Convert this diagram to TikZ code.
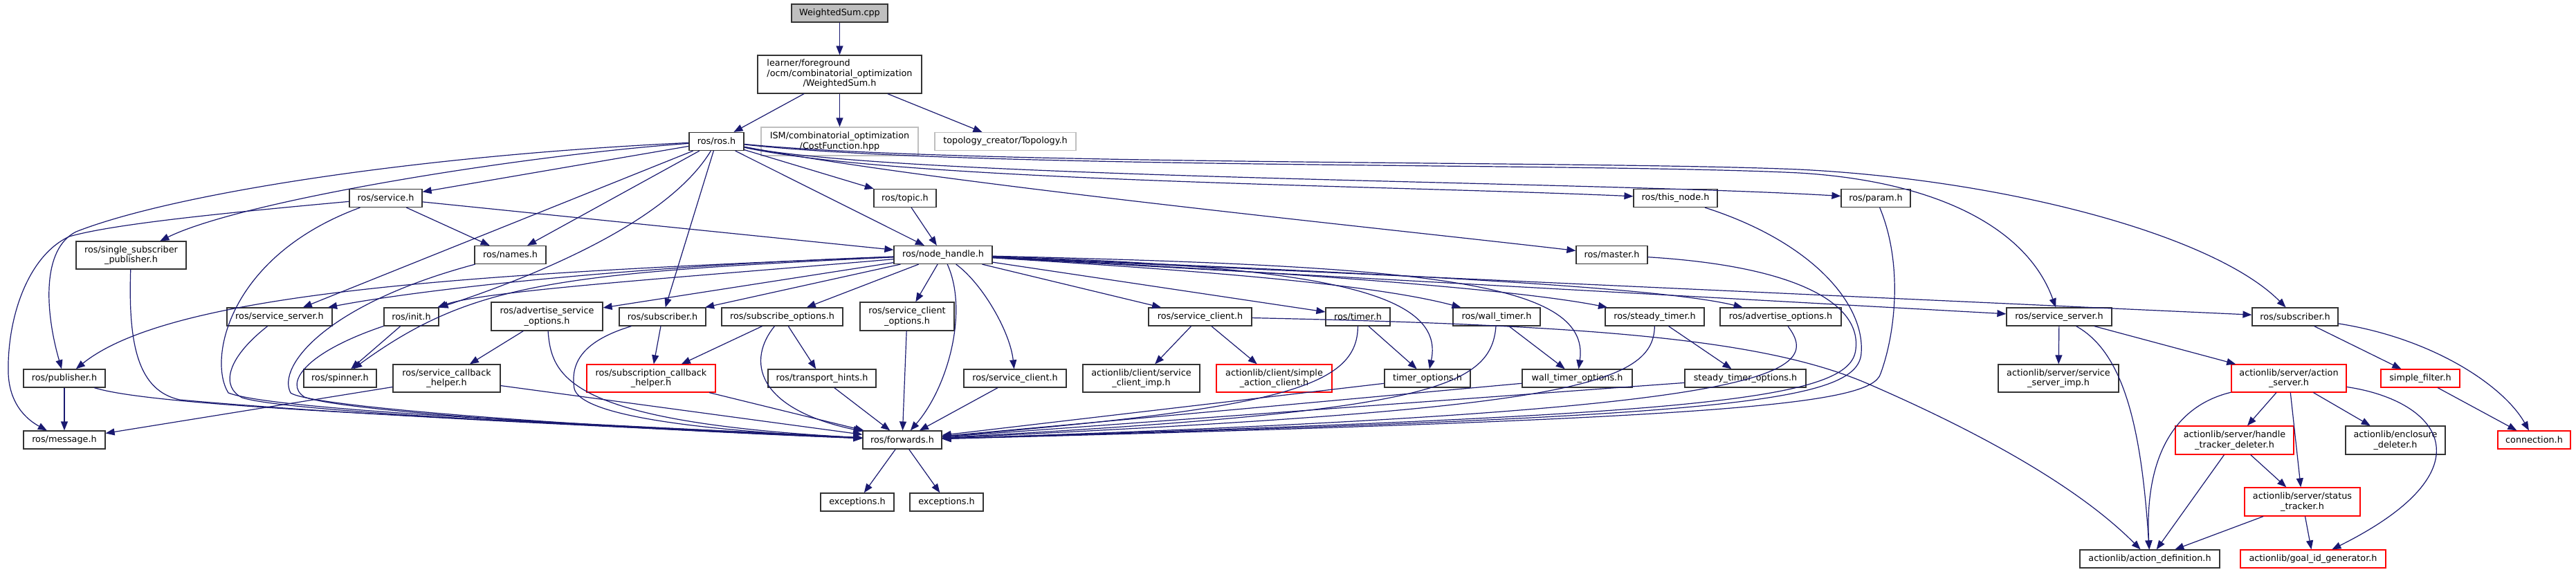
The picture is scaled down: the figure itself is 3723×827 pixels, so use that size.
\documentclass[tikz,border=0pt]{standalone}
\usepackage{fontspec}
\setmainfont{DejaVu Sans}
\usetikzlibrary{arrows.meta}
\definecolor{midnightblue}{HTML}{191970}
\definecolor{doxred}{HTML}{FF0000}
\definecolor{doxgray}{HTML}{BFBFBF}

\begin{document}
\begin{tikzpicture}[x=1pt, y=-1pt,
    hdr/.style={rectangle, draw=black!80, fill=white, line width=1.2pt, inner sep=1pt,
                minimum height=26, align=center, font=\fontsize{12.8}{14.5}\selectfont},
    hdrred/.style={hdr, draw=doxred},
    hdrgray/.style={hdr, draw=doxgray},
    dep/.style={draw=midnightblue, line width=1.2pt, -{Triangle[length=13pt,width=10pt]}}]
  \useasboundingbox (0,0) rectangle (3723,827);

  % top
  \node[hdr, fill=doxgray, minimum width=139]   (cpp)      at (1213.5,19)    {WeightedSum.cpp};
  \node[hdr, minimum width=237, minimum height=55] (wsh)   at (1213.5,107.5) {\begin{tabular}{@{}l@{}}learner/foreground\\/ocm/combinatorial\_optimization\\\multicolumn{1}{@{}c@{}}{/WeightedSum.h}\end{tabular}};
  \node[hdr, minimum width=79]                  (ros)      at (1035.5,204.5) {ros/ros.h};
  \node[hdrgray, minimum width=227, minimum height=41] (cost) at (1213.5,204.5) {ISM/combinatorial\_optimization\\/CostFunction.hpp};
  \node[hdrgray, minimum width=204]             (topo)     at (1453,204.5)   {topology\_creator/Topology.h};

  \node[hdr, minimum width=105]                 (service)  at (557.5,286.5)  {ros/service.h};
  \node[hdr, minimum width=90]                  (topic)    at (1308,286.5)   {ros/topic.h};
  \node[hdr, minimum width=121]                 (thisnode) at (2421.5,286.5) {ros/this\_node.h};
  \node[hdr, minimum width=100]                 (param)    at (2711,286.5)   {ros/param.h};

  \node[hdr, minimum width=159, minimum height=40] (ssp)    at (189.5,369)    {ros/single\_subscriber\\\_publisher.h};
  \node[hdr, minimum width=103]                 (names)    at (737.5,368.5)  {ros/names.h};
  \node[hdr, minimum width=142]                 (nh)       at (1363,368.5)   {ros/node\_handle.h};
  \node[hdr, minimum width=103]                 (master)   at (2329.5,368.5) {ros/master.h};

  % middle row
  \node[hdr, minimum width=152]                 (srvsrvA)  at (404,458)      {ros/service\_server.h};
  \node[hdr, minimum width=79]                  (init)     at (594.5,458)    {ros/init.h};
  \node[hdr, minimum width=161, minimum height=41] (aso)    at (790.5,457.5)  {ros/advertise\_service\\\_options.h};
  \node[hdr, minimum width=125]                 (subA)     at (957.5,458)    {ros/subscriber.h};
  \node[hdr, minimum width=175]                 (subopt)   at (1130.5,458)   {ros/subscribe\_options.h};
  \node[hdr, minimum width=136, minimum height=41] (sco)    at (1311,457.5)   {ros/service\_client\\\_options.h};
  \node[hdr, minimum width=149]                 (scA)      at (1734.5,458)   {ros/service\_client.h};
  \node[hdr, minimum width=93]                  (timer)    at (1962.5,458)   {ros/timer.h};
  \node[hdr, minimum width=126]                 (walltimer) at (2163,458)    {ros/wall\_timer.h};
  \node[hdr, minimum width=143]                 (steadytimer) at (2391.5,458) {ros/steady\_timer.h};
  \node[hdr, minimum width=175]                 (advopt)   at (2573.5,458)   {ros/advertise\_options.h};
  \node[hdr, minimum width=152]                 (srvsrvB)  at (2976,458)     {ros/service\_server.h};
  \node[hdr, minimum width=124]                 (subB)     at (3317,458)     {ros/subscriber.h};

  \node[hdr, minimum width=118]                 (pub)      at (93,547)       {ros/publisher.h};
  \node[hdr, minimum width=105]                 (spinner)  at (491.5,547)    {ros/spinner.h};
  \node[hdr, minimum width=155, minimum height=40] (scbh)   at (645.5,547)    {ros/service\_callback\\\_helper.h};
  \node[hdrred, minimum width=186, minimum height=40] (subcbh) at (941,547)   {ros/subscription\_callback\\\_helper.h};
  \node[hdr, minimum width=156]                 (th)       at (1188,547)     {ros/transport\_hints.h};
  \node[hdr, minimum width=148]                 (scB)      at (1467,547)     {ros/service\_client.h};
  \node[hdr, minimum width=169, minimum height=40] (scimp)  at (1649.5,547)   {actionlib/client/service\\\_client\_imp.h};
  \node[hdrred, minimum width=167, minimum height=40] (sac) at (1841.5,547)   {actionlib/client/simple\\\_action\_client.h};
  \node[hdr, minimum width=124]                 (timeropt) at (2063,547)     {timer\_options.h};
  \node[hdr, minimum width=159]                 (walltimeropt) at (2279.5,547) {wall\_timer\_options.h};
  \node[hdr, minimum width=175]                 (steadytimeropt) at (2522.5,547) {steady\_timer\_options.h};
  \node[hdr, minimum width=174, minimum height=40] (ssimp)  at (2975,547)     {actionlib/server/service\\\_server\_imp.h};
  \node[hdrred, minimum width=166, minimum height=40] (asrv) at (3308,547)    {actionlib/server/action\\\_server.h};
  \node[hdrred, minimum width=114]              (sfilter)  at (3498,547)     {simple\_filter.h};

  % bottom
  \node[hdr, minimum width=118]                 (msg)      at (93,636)       {ros/message.h};
  \node[hdr, minimum width=114]                 (fwd)      at (1304,636)     {ros/forwards.h};
  \node[hdrred, minimum width=171, minimum height=41] (htd) at (3229.5,636.5) {actionlib/server/handle\\\_tracker\_deleter.h};
  \node[hdr, minimum width=144, minimum height=41] (encl)   at (3462,636.5)   {actionlib/enclosure\\\_deleter.h};
  \node[hdrred, minimum width=105]              (conn)     at (3662.5,636)   {connection.h};
  \node[hdr, minimum width=106]                 (exc1)     at (1239,726)     {exceptions.h};
  \node[hdr, minimum width=106]                 (exc2)     at (1368,726)     {exceptions.h};
  \node[hdrred, minimum width=167, minimum height=41] (stracker) at (3327.5,725.5) {actionlib/server/status\\\_tracker.h};
  \node[hdr, minimum width=202]                 (adef)     at (3107,808)     {actionlib/action\_definition.h};
  \node[hdrred, minimum width=210]              (goalid)   at (3343,808)     {actionlib/goal\_id\_generator.h};

  % includes
  \draw[dep] (cpp) -- (wsh);
  \draw[dep] (wsh) -- (ros);
  \draw[dep] (wsh) -- (cost);
  \draw[dep] (wsh) -- (topo);

  \draw[dep] (ros) -- (service);
  \draw[dep] (ros) -- (names);
  \draw[dep] (ros) -- (srvsrvA);
  \draw[dep] (ros) -- (subA);
  \draw[dep] (ros) -- (topic);
  \draw[dep] (ros) -- (nh);
  \draw[dep] (ros) .. controls (750,225) and (350,290) .. (ssp);
  \draw[dep] (ros) .. controls (600,225) and (250,280) .. (110,335) .. controls (60,360) and (65,450) .. (pub);
  \draw[dep] (ros) .. controls (960,330) and (740,410) .. (init);
  \draw[dep] (ros) .. controls (1350,265) and (2000,330) .. (master);
  \draw[dep] (ros) .. controls (1300,262) and (2000,268) .. (thisnode);
  \draw[dep] (ros) .. controls (1300,258) and (2300,262) .. (param);
  \draw[dep] (ros) .. controls (1400,245) and (2300,235) .. (2600,250) .. controls (2800,262) and (2930,330) .. (srvsrvB);
  \draw[dep] (ros) .. controls (1400,240) and (2300,232) .. (2600,245) .. controls (2900,260) and (3200,340) .. (subB);

  \draw[dep] (service) -- (names);
  \draw[dep] (service) -- (nh);
  \draw[dep] (service) .. controls (300,310) and (160,325) .. (100,342) .. controls (40,370) and (10,460) .. (12,540) .. controls (14,590) and (45,610) .. (msg);
  \draw[dep] (service) .. controls (330,370) and (300,520) .. (330,568) .. controls (400,595) and (900,615) .. (fwd);
  \draw[dep] (topic) -- (nh);

  \draw[dep] (nh) -- (aso);
  \draw[dep] (nh) -- (subA);
  \draw[dep] (nh) -- (subopt);
  \draw[dep] (nh) -- (sco);
  \draw[dep] (nh) -- (scA);
  \draw[dep] (nh) -- (timer);
  \draw[dep] (nh) -- (srvsrvB);
  \draw[dep] (nh) -- (subB);
  \draw[dep] (nh) .. controls (900,385) and (600,420) .. (srvsrvA);
  \draw[dep] (nh) .. controls (1000,400) and (700,420) .. (init);
  \draw[dep] (nh) .. controls (800,395) and (680,410) .. (spinner);
  \draw[dep] (nh) .. controls (700,395) and (250,420) .. (pub);
  \draw[dep] (nh) .. controls (1420,410) and (1460,480) .. (scB);
  \draw[dep] (nh) .. controls (1400,450) and (1370,560) .. (fwd);
  \draw[dep] (nh) .. controls (1800,395) and (2000,415) .. (walltimer);
  \draw[dep] (nh) .. controls (1900,395) and (2200,420) .. (steadytimer);
  \draw[dep] (nh) .. controls (2000,395) and (2400,415) .. (advopt);
  \draw[dep] (nh) .. controls (1900,385) and (2090,420) .. (timeropt);
  \draw[dep] (nh) .. controls (2050,385) and (2300,405) .. (walltimeropt);

  \draw[dep] (ssp) .. controls (185,500) and (200,565) .. (260,578) .. controls (500,600) and (900,618) .. (fwd);
  \draw[dep] (names) .. controls (470,440) and (400,530) .. (420,568) .. controls (450,590) and (900,620) .. (fwd);
  \draw[dep] (srvsrvA) .. controls (325,520) and (320,560) .. (350,575) .. controls (420,597) and (900,617) .. (fwd);
  \draw[dep] (init) -- (spinner);
  \draw[dep] (init) .. controls (440,510) and (410,555) .. (440,574) .. controls (500,596) and (900,620) .. (fwd);
  \draw[dep] (aso) -- (scbh);
  \draw[dep] (aso) .. controls (797,545) and (820,610) .. (fwd);
  \draw[dep] (subA) -- (subcbh);
  \draw[dep] (subA) .. controls (835,495) and (825,530) .. (830,562) .. controls (840,600) and (1000,622) .. (fwd);
  \draw[dep] (subopt) -- (subcbh);
  \draw[dep] (subopt) -- (th);
  \draw[dep] (subopt) .. controls (1080,520) and (1090,590) .. (fwd);
  \draw[dep] (sco) -- (fwd);
  \draw[dep] (scA) -- (scimp);
  \draw[dep] (scA) -- (sac);
  \draw[dep] (scA) .. controls (2300,470) and (2550,490) .. (2700,555) .. controls (2850,620) and (3000,700) .. (adef);

  \draw[dep] (timer) -- (timeropt);
  \draw[dep] (timer) .. controls (1962,560) and (1850,590) .. (fwd);
  \draw[dep] (walltimer) -- (walltimeropt);
  \draw[dep] (walltimer) .. controls (2155,565) and (2050,595) .. (fwd);
  \draw[dep] (steadytimer) -- (steadytimeropt);
  \draw[dep] (steadytimer) .. controls (2390,560) and (2250,592) .. (fwd);
  \draw[dep] (advopt) .. controls (2640,545) and (2550,595) .. (fwd);
  \draw[dep] (master) .. controls (2600,385) and (2690,440) .. (2682,505) .. controls (2675,580) and (2450,600) .. (fwd);
  \draw[dep] (thisnode) .. controls (2620,350) and (2695,440) .. (2690,510) .. controls (2686,585) and (2480,602) .. (fwd);
  \draw[dep] (param) .. controls (2750,380) and (2740,480) .. (2718,540) .. controls (2705,585) and (2500,605) .. (fwd);

  \draw[dep] (pub) -- (msg);
  \draw[dep] (pub) .. controls (230,590) and (700,605) .. (fwd);
  \draw[dep] (scbh) -- (msg);
  \draw[dep] (scbh) -- (fwd);
  \draw[dep] (subcbh) -- (fwd);
  \draw[dep] (th) -- (fwd);
  \draw[dep] (scB) -- (fwd);
  \draw[dep] (timeropt) -- (fwd);
  \draw[dep] (walltimeropt) -- (fwd);
  \draw[dep] (steadytimeropt) -- (fwd);
  \draw[dep] (fwd) -- (exc1);
  \draw[dep] (fwd) -- (exc2);

  \draw[dep] (srvsrvB) -- (ssimp);
  \draw[dep] (srvsrvB) -- (asrv);
  \draw[dep] (srvsrvB) .. controls (3070,510) and (3095,620) .. (adef);
  \draw[dep] (subB) -- (sfilter);
  \draw[dep] (subB) .. controls (3520,490) and (3620,560) .. (conn);
  \draw[dep] (sfilter) -- (conn);
  \draw[dep] (asrv) -- (htd);
  \draw[dep] (asrv) -- (stracker);
  \draw[dep] (asrv) -- (encl);
  \draw[dep] (asrv) .. controls (3130,590) and (3100,680) .. (adef);
  \draw[dep] (asrv) .. controls (3530,580) and (3600,680) .. (goalid);
  \draw[dep] (htd) -- (adef);
  \draw[dep] (htd) -- (stracker);
  \draw[dep] (stracker) -- (adef);
  \draw[dep] (stracker) -- (goalid);
\end{tikzpicture}
\end{document}
